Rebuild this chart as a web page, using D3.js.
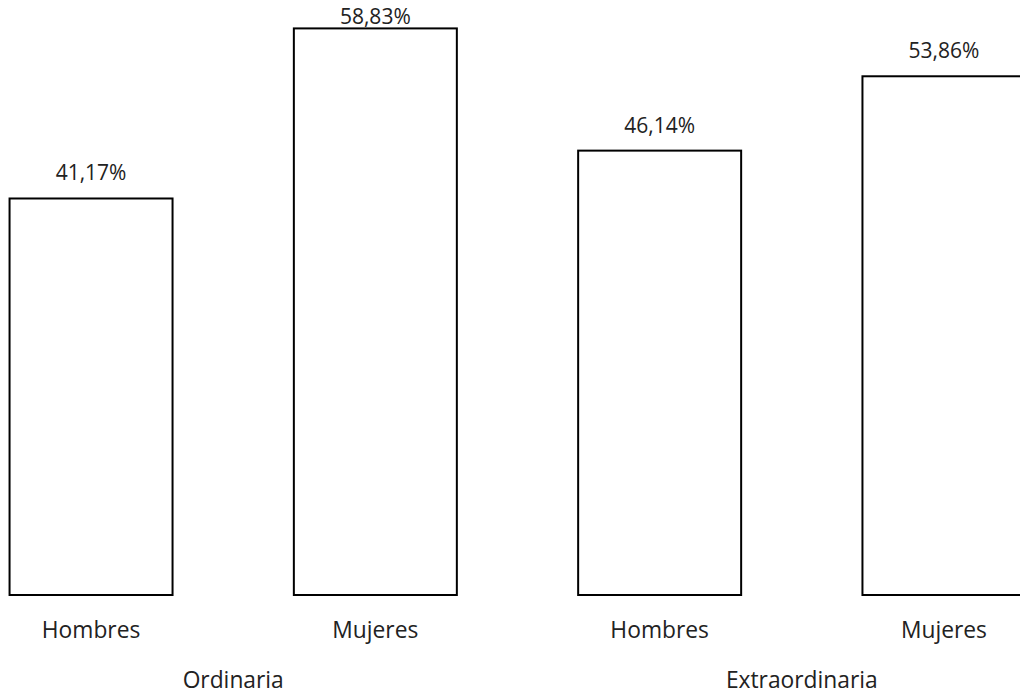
<!DOCTYPE html>
<html><head><meta charset="utf-8">
<script src="https://cdn.jsdelivr.net/npm/d3@7"></script>
<style>html,body{margin:0;padding:0;background:#fff;overflow:hidden}</style>
</head><body>
<svg id="c" width="1020" height="697"></svg>
<script>
const categories = ["Hombres", "Mujeres", "Hombres", "Mujeres"];
const groups = ["Ordinaria", "Extraordinaria"];
const values = [41.17, 58.83, 46.14, 53.86];
const valueLabels = ["41,17%", "58,83%", "46,14%", "53,86%"];

const svg = d3.select("#c");
const font = "'Open Sans', sans-serif";
const fsVal = 21;
const fsCat = 22.8;
const base = 595;
const pxPerPct = 9.631;

const x = d3.scaleBand().domain(d3.range(categories.length))
  .range([-51.1, -51.1 + 4 * 284.3]).paddingInner(0.4267).paddingOuter(0.21335);
const y = d3.scaleLinear().domain([0, 100]).range([base, base - 100 * pxPerPct]);

svg.selectAll("rect.bar").data(values).join("rect").attr("class", "bar")
  .attr("x", (d, i) => x(i)).attr("width", x.bandwidth())
  .attr("y", d => y(d)).attr("height", d => base - y(d))
  .attr("fill", "#fff").attr("stroke", "#000").attr("stroke-width", 2);

svg.selectAll("text.val").data(values).join("text").attr("class", "val")
  .attr("x", (d, i) => x(i) + x.bandwidth() / 2)
  .attr("y", d => Math.max(y(d) - 18, 24))
  .attr("text-anchor", "middle").attr("font-family", font).attr("font-size", fsVal)
  .attr("fill", "#222").text((d, i) => valueLabels[i]);

svg.selectAll("text.cat").data(categories).join("text").attr("class", "cat")
  .attr("x", (d, i) => x(i) + x.bandwidth() / 2).attr("y", 638)
  .attr("text-anchor", "middle").attr("font-family", font).attr("font-size", fsCat)
  .attr("fill", "#222").text(d => d);

svg.selectAll("text.grp").data(groups).join("text").attr("class", "grp")
  .attr("x", (d, g) => (x(2 * g) + x(2 * g + 1)) / 2 + x.bandwidth() / 2).attr("y", 688)
  .attr("text-anchor", "middle").attr("font-family", font).attr("font-size", fsCat)
  .attr("fill", "#222").text(d => d);
</script>
</body></html>
